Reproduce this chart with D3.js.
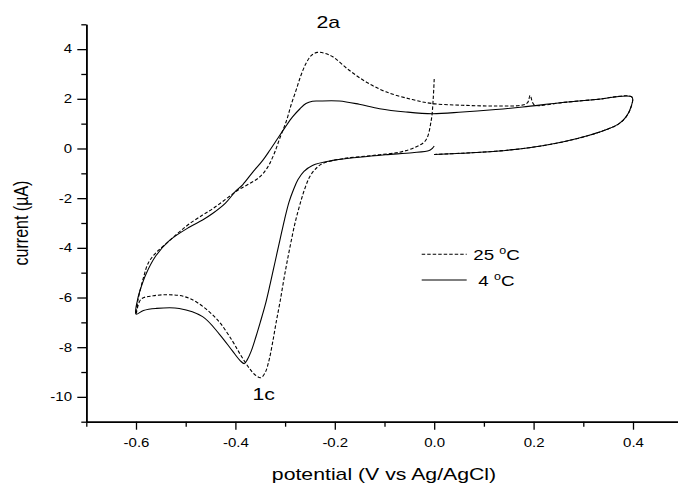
<!DOCTYPE html>
<html>
<head>
<meta charset="utf-8">
<script src="https://cdn.jsdelivr.net/npm/d3@7"></script>
<style>
  body { margin: 0; background: #fff; }
  svg { display: block; font-family: "Liberation Sans", Arial, sans-serif; }
</style>
</head>
<body>
<svg id="chart" width="678" height="486"></svg>
<script>
// cyclic voltammograms, [potential (V), current (uA)] in scan order
var cv25 = [
  [0.000, 2.80], [-0.002, 2.00], [-0.006, 1.13], [-0.017, 0.33], [-0.037, 0.06],
  [-0.070, -0.15], [-0.124, -0.28], [-0.184, -0.41], [-0.225, -0.61], [-0.240, -0.85],
  [-0.251, -1.16], [-0.260, -1.60], [-0.268, -2.10], [-0.280, -3.00], [-0.291, -4.05],
  [-0.301, -5.10], [-0.310, -6.15], [-0.318, -7.00], [-0.325, -7.80], [-0.332, -8.50],
  [-0.340, -9.02], [-0.349, -9.23], [-0.360, -9.12], [-0.372, -8.85], [-0.390, -8.30],
  [-0.406, -7.75], [-0.436, -6.90], [-0.477, -6.20], [-0.505, -5.95], [-0.533, -5.89],
  [-0.565, -5.93], [-0.590, -6.07], [-0.600, -6.67],
  [-0.596, -6.10], [-0.585, -5.20], [-0.575, -4.60], [-0.560, -4.20], [-0.540, -3.84],
  [-0.515, -3.40], [-0.493, -3.04], [-0.466, -2.68], [-0.446, -2.43], [-0.420, -2.05],
  [-0.396, -1.69], [-0.375, -1.45], [-0.352, -1.16], [-0.335, -0.75], [-0.322, -0.21],
  [-0.310, 0.45], [-0.297, 1.13], [-0.288, 1.75], [-0.278, 2.34], [-0.268, 2.95],
  [-0.258, 3.42], [-0.247, 3.75], [-0.235, 3.87], [-0.220, 3.83], [-0.204, 3.69],
  [-0.171, 3.15], [-0.137, 2.68], [-0.097, 2.28], [-0.044, 1.97], [-0.004, 1.81],
  [0.057, 1.74], [0.124, 1.71], [0.178, 1.75], [0.188, 1.85], [0.193, 2.14],
  [0.198, 1.85], [0.203, 1.74], [0.258, 1.85], [0.325, 1.97], [0.398, 2.07],
  [0.396, 1.67], [0.386, 1.27], [0.372, 1.00], [0.352, 0.80], [0.312, 0.53],
  [0.258, 0.26], [0.191, 0.03], [0.124, -0.11], [0.057, -0.19], [0.000, -0.24]
];

var cv4 = [
  [0.000, 0.10], [-0.004, 0.00], [-0.010, -0.08], [-0.044, -0.17], [-0.098, -0.25],
  [-0.151, -0.35], [-0.204, -0.48], [-0.245, -0.68], [-0.262, -0.92], [-0.274, -1.25],
  [-0.283, -1.65], [-0.292, -2.15], [-0.301, -2.85], [-0.310, -3.65], [-0.320, -4.55],
  [-0.330, -5.45], [-0.340, -6.30], [-0.350, -7.00], [-0.359, -7.60], [-0.368, -8.15],
  [-0.376, -8.50], [-0.382, -8.66], [-0.390, -8.55], [-0.406, -8.15], [-0.432, -7.48],
  [-0.466, -6.77], [-0.513, -6.44], [-0.560, -6.44], [-0.585, -6.52], [-0.600, -6.67],
  [-0.597, -6.10], [-0.590, -5.60], [-0.580, -5.06], [-0.560, -4.32], [-0.533, -3.71],
  [-0.493, -3.17], [-0.466, -2.88], [-0.446, -2.62], [-0.420, -2.20], [-0.400, -1.73],
  [-0.385, -1.45], [-0.365, -0.95], [-0.345, -0.48], [-0.330, -0.05], [-0.315, 0.40],
  [-0.300, 0.85], [-0.285, 1.27], [-0.270, 1.60], [-0.258, 1.81], [-0.245, 1.90],
  [-0.232, 1.91], [-0.191, 1.91], [-0.151, 1.78], [-0.110, 1.60], [-0.057, 1.47],
  [-0.004, 1.40], [0.057, 1.47], [0.124, 1.57], [0.178, 1.67], [0.258, 1.85],
  [0.325, 1.97], [0.398, 2.07],
  [0.396, 1.67], [0.386, 1.27], [0.372, 1.00], [0.352, 0.80], [0.312, 0.53],
  [0.258, 0.26], [0.191, 0.03], [0.124, -0.11], [0.057, -0.19], [0.000, -0.24]
];

var xMajor = [-0.6, -0.4, -0.2, 0.0, 0.2, 0.4];
var xMinor = [-0.7, -0.5, -0.3, -0.1, 0.1, 0.3, 0.5];
var yMajor = [-10, -8, -6, -4, -2, 0, 2, 4];
var yMinor = [-11, -9, -7, -5, -3, -1, 1, 3, 5];
var legendNames = ["25", "4"];
var peakLabels = [["2a", -0.213, 4.85], ["1c", -0.343, -10.13]];

var SX = 1.25; // text in the source is drawn a bit wide

var svg = d3.select("#chart");
svg.append("rect").attr("width", 678).attr("height", 486).attr("fill", "#fff");

var x = d3.scaleLinear().domain([-0.7, 0.5]).range([86.3, 682.7]);
var y = d3.scaleLinear().domain([-11, 5]).range([421.7, 24.3]);

function wideText(g, px, py, str, size, anchor) {
  return g.append("text")
    .attr("transform", "translate(" + px + "," + py + ") scale(" + SX + ",1)")
    .attr("font-size", size + "px")
    .attr("text-anchor", anchor)
    .attr("fill", "#000")
    .text(str);
}

// axes
var xAxis = svg.append("g").attr("transform", "translate(0," + y(-11) + ")");
xAxis.call(d3.axisBottom(x).tickValues(xMinor).tickSize(5).tickSizeOuter(0).tickFormat(""));
xAxis.append("g").call(d3.axisBottom(x).tickValues(xMajor).tickSize(8).tickSizeOuter(0)
  .tickFormat(function(d){ return d.toFixed(1); }));

var yAxis = svg.append("g").attr("transform", "translate(" + x(-0.7) + ",0)");
yAxis.call(d3.axisLeft(y).tickValues(yMinor).tickSize(5).tickSizeOuter(0).tickFormat(""));
yAxis.append("g").call(d3.axisLeft(y).tickValues(yMajor).tickSize(9).tickSizeOuter(0)
  .tickFormat(function(d){ return d; }));

svg.selectAll(".domain").attr("stroke", "#000").attr("stroke-width", 1.6);
svg.selectAll(".tick line").attr("stroke", "#000").attr("stroke-width", 1.3);

xAxis.selectAll(".tick text")
  .attr("y", 25).attr("dy", 0)
  .attr("transform", "scale(" + SX + ",1)")
  .attr("font-family", "Liberation Sans, Arial, sans-serif")
  .attr("font-size", "12px").attr("fill", "#000");

yAxis.selectAll(".tick text")
  .attr("x", -14.3 / SX)
  .attr("transform", "scale(" + SX + ",1)")
  .attr("font-family", "Liberation Sans, Arial, sans-serif")
  .attr("font-size", "12px").attr("fill", "#000");

// axis titles
wideText(svg, 384, 480, "potential (V vs Ag/AgCl)", 17, "middle");
svg.append("text")
  .attr("transform", "translate(28.3," + ((y(5) + y(-11)) / 2) + ") scale(" + SX + ",1) rotate(-90)")
  .attr("font-size", "16px")
  .attr("text-anchor", "middle")
  .text("current (\u00b5A)");

// curves
var line = d3.line()
  .x(function(d){ return x(d[0]); })
  .y(function(d){ return y(d[1]); })
  .curve(d3.curveCatmullRom.alpha(0.5));

svg.append("path").datum(cv4)
  .attr("d", line).attr("fill", "none")
  .attr("stroke", "#000").attr("stroke-width", 1.1);

svg.append("path").datum(cv25)
  .attr("d", line).attr("fill", "none")
  .attr("stroke", "#000").attr("stroke-width", 1.1)
  .attr("stroke-dasharray", "3.5,2");

// peak labels
peakLabels.forEach(function(p){
  wideText(svg, x(p[1]), y(p[2]), p[0], 17, "middle");
});

// legend
var legend = svg.append("g");
[["3.5,2", 254.3, 473.3], ["none", 280, 478.3]].forEach(function(l, i){
  legend.append("line")
    .attr("x1", 421.7).attr("x2", 466.7)
    .attr("y1", l[1]).attr("y2", l[1])
    .attr("stroke", "#000").attr("stroke-width", 1.1)
    .attr("stroke-dasharray", l[0]);
  var t = wideText(legend, l[2], l[1] + 6, legendNames[i] + " ", 15, "start");
  t.append("tspan").attr("font-size", "10px").attr("dy", -6).text("o");
  t.append("tspan").attr("dy", 6).text("C");
});
</script>
</body>
</html>
